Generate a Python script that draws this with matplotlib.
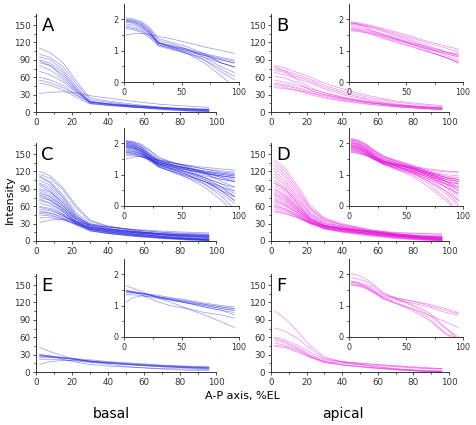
import numpy as np
import matplotlib
matplotlib.use("Agg")
import matplotlib.pyplot as plt
from matplotlib.ticker import MultipleLocator

# === Data (intensity read at A-P positions, %EL) ===
ap_pos = [2, 8, 15, 22, 30, 40, 55, 70, 85, 96]

panel_a = [
    [110, 102, 85, 55, 24, 19, 13, 8, 4, 3],
    [100, 94, 78, 50, 21, 17, 11, 6, 3, 2],
    [95, 90, 72, 45, 18, 14, 9, 5, 2, 1.2],
    [90, 84, 68, 42, 17, 13, 8, 4, 1.5, 0.7],
    [88, 80, 60, 38, 17, 13, 10, 7, 4, 3],
    [85, 80, 64, 40, 15, 12, 8, 5, 2.5, 1.5],
    [80, 72, 56, 36, 18, 14, 11, 7, 5, 4],
    [70, 64, 52, 34, 17, 14, 10, 7.5, 5.5, 4.5],
    [60, 55, 46, 30, 15, 12, 9, 7, 5, 4],
    [55, 50, 42, 30, 18, 15, 11, 8, 6, 5],
    [50, 46, 38, 26, 14, 11, 8, 6, 4, 3],
    [32, 34, 35, 33, 28, 24, 18, 13, 10, 8],
]

panel_b = [
    [80, 76, 68, 60, 50, 40, 28, 19, 14, 11],
    [75, 71, 64, 56, 46, 36, 25, 17, 12, 9],
    [72, 68, 61, 53, 43, 33, 22, 14, 9, 7],
    [68, 64, 58, 50, 40, 30, 20, 12, 7, 5],
    [78, 70, 55, 42, 33, 25, 16, 10, 6, 4],
    [55, 51, 46, 40, 33, 26, 18, 13, 9, 8],
    [50, 47, 42, 36, 30, 23, 16, 11, 8, 6],
    [48, 45, 40, 33, 26, 20, 14, 9, 6, 4.5],
    [45, 42, 37, 30, 24, 19, 13, 9, 6, 4],
    [42, 40, 37, 33, 28, 22, 16, 11, 8, 6.5],
    [62, 58, 50, 38, 30, 24, 17, 12, 9, 7],
]

panel_c = [
    [120, 112, 92, 62, 36, 26, 18, 12, 8, 6],
    [115, 108, 88, 58, 34, 25, 17, 11, 6, 4],
    [112, 102, 80, 50, 30, 22, 14, 8, 4, 2],
    [110, 100, 76, 46, 28, 21, 15, 11, 8, 7],
    [105, 96, 74, 45, 26, 19, 12, 7, 3, 1.5],
    [100, 92, 70, 42, 24, 18, 12, 8, 5, 3],
    [98, 88, 66, 40, 25, 20, 15, 11, 9, 8],
    [95, 85, 62, 38, 22, 16, 10, 5, 2, 0.8],
    [90, 84, 66, 42, 28, 22, 16, 12, 10, 9],
    [88, 80, 60, 36, 22, 17, 12, 8, 5, 4],
    [85, 76, 56, 34, 20, 15, 10, 6, 3, 1.5],
    [82, 76, 60, 40, 30, 25, 19, 15, 12, 11],
    [80, 72, 54, 34, 21, 16, 11, 7, 4, 2.5],
    [78, 70, 52, 32, 18, 13, 8, 4, 1.5, 0.6],
    [75, 70, 56, 38, 26, 21, 16, 12, 10, 9],
    [72, 66, 50, 32, 20, 15, 10, 6, 3, 2],
    [70, 64, 50, 34, 24, 19, 14, 10, 7, 6],
    [65, 60, 46, 30, 18, 13, 8, 5, 2.5, 1.2],
    [60, 56, 46, 32, 22, 18, 14, 11, 9, 8],
    [58, 54, 44, 30, 19, 14, 9, 6, 3.5, 2],
    [55, 52, 44, 32, 24, 20, 16, 13, 11, 10],
    [52, 48, 40, 28, 17, 13, 9, 6, 4, 3],
    [50, 48, 42, 34, 28, 24, 20, 17, 15, 14],
    [48, 45, 38, 28, 20, 16, 12, 9, 7, 6],
    [45, 43, 38, 30, 22, 18, 14, 11, 9, 8],
    [40, 40, 36, 30, 24, 20, 16, 13, 11, 10],
    [32, 36, 38, 34, 28, 24, 19, 15, 13, 12],
]

panel_d = [
    [140, 125, 95, 62, 40, 30, 20, 12, 6, 3],
    [135, 120, 90, 58, 38, 28, 18, 10, 5, 2],
    [130, 115, 86, 56, 36, 27, 18, 11, 6, 4],
    [125, 110, 82, 54, 36, 28, 20, 13, 8, 6],
    [120, 104, 78, 50, 33, 25, 16, 9, 4, 1.5],
    [115, 100, 74, 48, 32, 25, 17, 11, 7, 5],
    [110, 96, 72, 46, 30, 23, 15, 9, 5, 3],
    [105, 92, 68, 44, 30, 24, 17, 12, 8, 7],
    [100, 88, 66, 42, 27, 20, 12, 6, 2.5, 1],
    [95, 84, 62, 40, 27, 21, 15, 10, 7, 6],
    [90, 80, 60, 40, 28, 22, 16, 11, 8, 7],
    [88, 78, 58, 38, 26, 20, 13, 8, 4, 2.5],
    [85, 76, 56, 36, 23, 16, 10, 5, 1.8, 0.7],
    [80, 72, 54, 36, 25, 20, 14, 10, 7, 6],
    [78, 70, 52, 34, 22, 17, 11, 6, 3, 1.5],
    [75, 68, 52, 36, 27, 22, 16, 12, 9, 8],
    [72, 65, 50, 34, 24, 19, 13, 8, 5, 3.5],
    [70, 63, 48, 32, 21, 15, 9, 4, 1.5, 0.6],
    [68, 62, 48, 34, 26, 21, 16, 12, 10, 9],
    [65, 60, 46, 32, 23, 18, 13, 9, 6, 5],
    [62, 56, 44, 30, 21, 16, 11, 7, 4, 2.5],
    [60, 55, 44, 32, 25, 21, 17, 14, 12, 12],
    [58, 53, 42, 30, 22, 17, 12, 8, 5, 4],
    [55, 51, 42, 31, 24, 20, 15, 11, 8, 7],
    [52, 48, 40, 30, 22, 18, 13, 9, 6, 5],
    [50, 47, 40, 32, 26, 22, 18, 15, 13, 12],
    [100, 90, 64, 38, 25, 19, 12, 7, 3, 1.2],
    [82, 74, 56, 38, 27, 22, 15, 10, 6, 4],
]

panel_e = [
    [42, 35, 28, 22, 17, 13, 8, 5, 3, 2],
    [30, 28, 25, 22, 19, 16, 13, 10, 8, 7],
    [29, 27, 25, 23, 21, 18, 15, 12, 10, 9],
    [28, 26, 24, 21, 18, 15, 12, 9, 7, 6],
    [27, 26, 24, 22, 19, 16, 12, 9, 7, 5],
    [25, 25, 24, 22, 19, 17, 14, 11, 9, 8],
    [22, 22, 21, 19, 17, 15, 12, 10, 8, 7],
    [13, 18, 20, 20, 18, 16, 13, 11, 9, 8],
    [30, 27, 22, 17, 13, 10, 8, 6, 5, 4],
]

panel_f = [
    [105, 92, 70, 45, 26, 18, 11, 6, 2, 0.8],
    [76, 70, 58, 40, 24, 17, 10, 5, 1.8, 1],
    [60, 55, 46, 34, 22, 18, 14, 11, 8, 6],
    [58, 52, 42, 30, 20, 17, 14, 10, 7, 5.5],
    [55, 50, 40, 28, 18, 13, 8, 4, 1.3, 0.9],
    [50, 46, 38, 27, 17, 12, 7, 3.5, 1.2, 0.8],
    [46, 44, 36, 26, 18, 15, 12, 9, 6, 5],
    [44, 42, 34, 25, 16, 12, 8, 5, 3, 2],
]

panel_labels = ["A", "B", "C", "D", "E", "F"]
panels = [panel_a, panel_b, panel_c, panel_d, panel_e, panel_f]

BLUE = "#2a2ae0"
MAGENTA = "#e414dc"
AXC = "#333333"

W, H = 476, 425
fig = plt.figure(figsize=(W / 100, H / 100), dpi=100)


def px_axes(x0, y_top, x1, y_bot):
    # pixel box -> figure axes
    return fig.add_axes([x0 / W, 1 - y_bot / H, (x1 - x0) / W, (y_bot - y_top) / H])


def style(ax):
    for s in ["top", "right"]:
        ax.spines[s].set_visible(False)
    for s in ["left", "bottom"]:
        ax.spines[s].set_color(AXC)
        ax.spines[s].set_linewidth(0.7)
    ax.tick_params(which="both", direction="out", colors=AXC, labelsize=6.3,
                   width=0.6, pad=1.5)
    ax.tick_params(which="major", length=2.5)
    ax.tick_params(which="minor", length=1.5)
    ax.patch.set_alpha(0)


cols_x = [(36, 216), (271, 449)]
inset_x = [(124, 239), (349, 463)]
rows_bottom = [112, 241, 372]
inset_bottom = [82, 206, 337]

for i, data in enumerate(panels):
    r, c = divmod(i, 2)
    color = BLUE if c == 0 else MAGENTA
    x0, x1 = cols_x[c]
    yb = rows_bottom[r]
    ax = px_axes(x0, yb - 98, x1, yb)
    for curve in data:
        ax.plot(ap_pos, curve, color=color, lw=0.55, alpha=0.45)
    ax.set_xlim(0, 100)
    ax.set_ylim(0, 169)
    ax.set_xticks([0, 20, 40, 60, 80, 100])
    ax.set_yticks([0, 30, 60, 90, 120, 150])
    ax.xaxis.set_minor_locator(MultipleLocator(10))
    ax.yaxis.set_minor_locator(MultipleLocator(15))
    style(ax)
    ax.text(0.03, 0.97, panel_labels[i], transform=ax.transAxes, fontsize=13,
            va="top", ha="left")

    ix0, ix1 = inset_x[c]
    ib = inset_bottom[r]
    ins = px_axes(ix0, ib - 78, ix1, ib)
    for curve in data:
        ins.plot(ap_pos, np.log10(curve), color=color, lw=0.55, alpha=0.45)
    ins.set_xlim(0, 100)
    ins.set_ylim(0, 2.48)
    ins.set_xticks([0, 50, 100])
    ins.set_yticks([0, 1, 2])
    ins.xaxis.set_minor_locator(MultipleLocator(25))
    ins.yaxis.set_minor_locator(MultipleLocator(0.5))
    style(ins)
    ins.tick_params(labelsize=5.8)

fig.text(10 / W, 1 - 200 / H, "Intensity", rotation=90, fontsize=8,
         ha="center", va="center")
fig.text(242 / W, 1 - 396 / H, "A-P axis, %EL", fontsize=8,
         ha="center", va="center")
fig.text(111 / W, 1 - 414 / H, "basal", fontsize=10, ha="center", va="center")
fig.text(343 / W, 1 - 414 / H, "apical", fontsize=10, ha="center", va="center")

fig.savefig("out.png", dpi=100)
